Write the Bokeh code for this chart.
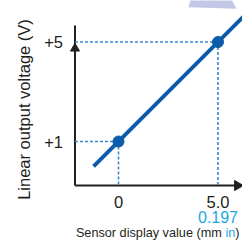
import math
from bokeh.plotting import figure
from bokeh.models import Range1d
from bokeh.core.properties import value
from bokeh.embed import file_html
from bokeh.resources import INLINE

# ---- data ----
sensor_mm = [0.0, 5.0]            # sensor display value (mm)
output_v = [1.0, 5.0]             # linear output voltage (V)
x_tick_mm = ["0", "5.0"]
x_tick_in = ["", "0.197"]
y_tick_text = ["+1", "+5"]
line_x = [-1.25, 7.0]
line_y = [0.0, 6.6]
deco_x = [3.62, 5.68, 5.93, 3.52]
deco_y = [6.70, 6.70, 6.34, 6.40]

# ---- layout constants ----
AX_X = -2.186      # position of vertical axis (data x)
AX_Y = -0.769      # position of horizontal axis (data y)
AX_TOP = 5.663
AX_RIGHT = 6.18
FONT = value("Liberation Sans")
DARK = "#231f20"
BLUE = "#0b5cab"
DOT_BLUE = "#3f86cc"
CYAN = "#22a7e2"

W, H = 242, 241
# pixel mapping: x=0 -> 118px, 19.9 px/unit ; y=1 -> 141px, 24.875 px/unit
x0 = -118 / 19.9
y1 = 1 + 141 / 24.875
p = figure(width=W, height=H, output_backend="svg", toolbar_location=None,
           x_range=Range1d(x0, x0 + W / 19.9), y_range=Range1d(y1 - H / 24.875, y1),
           min_border=0, x_axis_location=None, y_axis_location=None)
p.outline_line_color = None
p.xgrid.visible = False
p.ygrid.visible = False
p.background_fill_color = "white"
p.border_fill_color = "white"

# decoration at top
p.patch(deco_x, deco_y, fill_color="#c3c8e6", line_color=None)

# axes
p.segment(x0=[AX_X], y0=[AX_Y], x1=[AX_X], y1=[AX_TOP], line_color=DARK, line_width=2)
p.segment(x0=[AX_X], y0=[AX_Y], x1=[AX_RIGHT - 0.3], y1=[AX_Y], line_color=DARK, line_width=2)
p.scatter(x=[AX_X], y=[4.74], marker="triangle", size=9, fill_color=DARK, line_color=DARK)
p.scatter(x=[AX_RIGHT - 0.2], y=[AX_Y], marker="triangle", size=10, angle=-math.pi / 2,
          fill_color=DARK, line_color=DARK)

# dotted guides
p.segment(x0=[AX_X] * 2, y0=output_v, x1=sensor_mm, y1=output_v,
          line_color=DOT_BLUE, line_width=1.6, line_dash="3 2")
p.segment(x0=sensor_mm, y0=output_v, x1=sensor_mm, y1=[AX_Y] * 2,
          line_color=DOT_BLUE, line_width=1.6, line_dash="3 2")

# characteristic line and points
p.line(line_x, line_y, line_color=BLUE, line_width=4)
p.scatter(sensor_mm, output_v, size=11, fill_color=BLUE, line_color=BLUE)

# tick labels
p.text(x=[AX_X] * 2, y=output_v, text=y_tick_text, x_offset=-12, text_align="right",
       text_baseline="middle", text_font=FONT, text_font_size="16.5px", text_color=DARK)
p.text(x=sensor_mm, y=[AX_Y] * 2, text=x_tick_mm, y_offset=16, text_align="center",
       text_baseline="middle", text_font=FONT, text_font_size="16.5px", text_color=DARK)
p.text(x=sensor_mm, y=[AX_Y] * 2, text=x_tick_in, y_offset=31, text_align="center",
       text_baseline="middle", text_font=FONT, text_font_size="16px", text_color=CYAN)

# y axis title
p.text(x=[AX_X], y=[2.286], text=["Linear output voltage (V)"], x_offset=-51,
       angle=math.pi / 2, text_align="center", text_baseline="middle",
       text_font=FONT, text_font_size="16.5px", text_color=DARK)

# x axis title (three coloured pieces)
fs = 12.7
TY = 47
p.text(x=[AX_RIGHT], y=[AX_Y], text=[")"], x_offset=-2, y_offset=TY, text_align="right",
       text_baseline="middle", text_font=FONT, text_font_size=f"{fs}px", text_color=DARK)
p.text(x=[AX_RIGHT], y=[AX_Y], text=["in"], x_offset=-2 - 0.333 * fs, y_offset=TY,
       text_align="right", text_baseline="middle", text_font=FONT,
       text_font_size=f"{fs}px", text_color=CYAN)
p.text(x=[AX_RIGHT], y=[AX_Y], text=["Sensor display value (mm"],
       x_offset=-2 - (0.333 + 0.778 + 0.278) * fs, y_offset=TY,
       text_align="right", text_baseline="middle", text_font=FONT,
       text_font_size=f"{fs}px", text_color=DARK)

open("out.html", "w").write(file_html(p, INLINE))
